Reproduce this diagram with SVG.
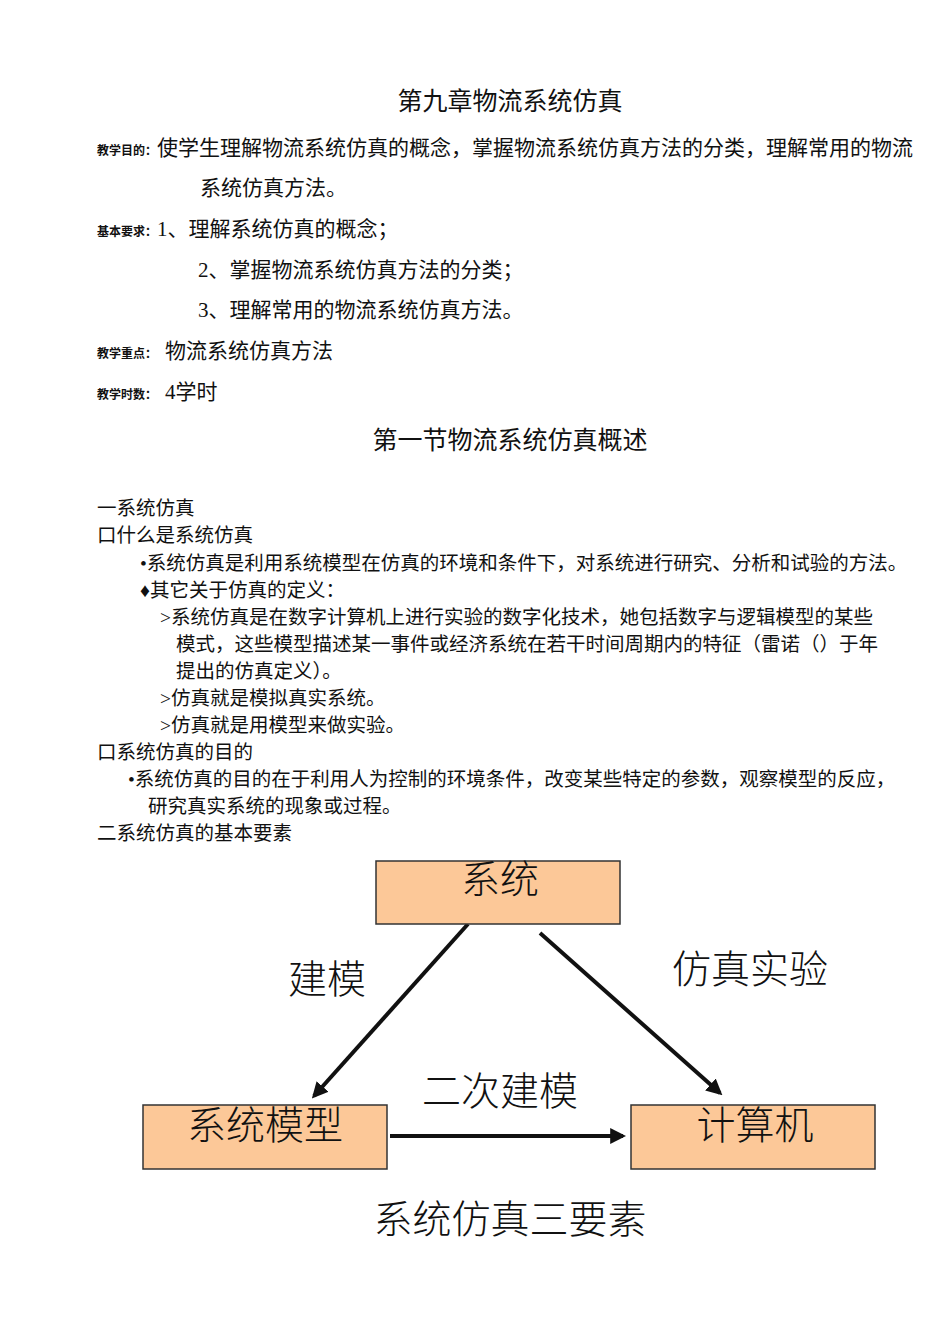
<svg xmlns="http://www.w3.org/2000/svg" width="950" height="1344" viewBox="0 0 950 1344">
<style>
text{font-family:"Liberation Serif","Noto Sans CJK SC",serif;fill:#111}
.t{font-size:21px}
.u{font-size:19.5px}
.s{font-size:12px;font-weight:bold}
.h{font-size:25px}
.d{font-size:39px;font-family:"Noto Sans CJK SC",sans-serif;font-weight:300}
.box{fill:#fcc898;stroke:#333;stroke-width:1.5}
.ar{stroke:#111;stroke-width:4;fill:none;marker-end:url(#m)}
</style>
<defs><marker id="m" viewBox="0 0 10 10" refX="8" refY="5" markerWidth="4" markerHeight="4" orient="auto"><path d="M0,0L10,5L0,10z" fill="#111"/></marker></defs>
<rect width="950" height="1344" fill="#fff"/>
<text class="h" x="510" y="110" text-anchor="middle">第九章物流系统仿真</text>
<text x="97" y="155"><tspan class="s">教学目的：</tspan><tspan class="t">使学生理解物流系统仿真的概念，掌握物流系统仿真方法的分类，理解常用的物流</tspan></text>
<text class="t" x="200" y="195">系统仿真方法。</text>
<text x="97" y="236"><tspan class="s">基本要求：</tspan><tspan class="t">1、理解系统仿真的概念；</tspan></text>
<text class="t" x="198" y="277">2、掌握物流系统仿真方法的分类；</text>
<text class="t" x="198" y="317">3、理解常用的物流系统仿真方法。</text>
<text x="97" y="358"><tspan class="s">教学重点：</tspan><tspan class="t" dx="8">物流系统仿真方法</tspan></text>
<text x="97" y="399"><tspan class="s">教学时数：</tspan><tspan class="t" dx="8">4学时</tspan></text>
<text class="h" x="510" y="449" text-anchor="middle">第一节物流系统仿真概述</text>
<text class="u" x="97" y="515">一系统仿真</text>
<text class="u" x="97" y="542">口什么是系统仿真</text>
<text class="u" x="140" y="570">•系统仿真是利用系统模型在仿真的环境和条件下，对系统进行研究、分析和试验的方法。</text>
<text class="u" x="140" y="597">♦其它关于仿真的定义：</text>
<text class="u" x="160" y="624">&gt;系统仿真是在数字计算机上进行实验的数字化技术，她包括数字与逻辑模型的某些</text>
<text class="u" x="176" y="651">模式，这些模型描述某一事件或经济系统在若干时间周期内的特征（雷诺（）于年</text>
<text class="u" x="176" y="678">提出的仿真定义）。</text>
<text class="u" x="160" y="705">&gt;仿真就是模拟真实系统。</text>
<text class="u" x="160" y="732">&gt;仿真就是用模型来做实验。</text>
<text class="u" x="97" y="759">口系统仿真的目的</text>
<text class="u" x="128" y="786">•系统仿真的目的在于利用人为控制的环境条件，改变某些特定的参数，观察模型的反应，</text>
<text class="u" x="148" y="813">研究真实系统的现象或过程。</text>
<text class="u" x="97" y="840">二系统仿真的基本要素</text>
<g id="connectors">
<line class="ar" x1="468" y1="924" x2="314" y2="1096"/>
<line class="ar" x1="540" y1="933" x2="720" y2="1093"/>
<line class="ar" x1="390" y1="1136" x2="623" y2="1136"/>
</g>
<g id="n1"><rect class="box" x="376" y="861" width="244" height="63"/><text class="d" x="500" y="893" text-anchor="middle">系统</text></g>
<g id="n2"><rect class="box" x="143" y="1105" width="244" height="64"/><text class="d" x="265" y="1139" text-anchor="middle">系统模型</text></g>
<g id="n3"><rect class="box" x="631" y="1105" width="244" height="64"/><text class="d" x="755" y="1139" text-anchor="middle">计算机</text></g>
<text class="d" x="327" y="993" text-anchor="middle">建模</text>
<text class="d" x="750" y="983" text-anchor="middle">仿真实验</text>
<text class="d" x="500" y="1105" text-anchor="middle">二次建模</text>
<text class="d" x="510" y="1233" text-anchor="middle">系统仿真三要素</text>
</svg>
